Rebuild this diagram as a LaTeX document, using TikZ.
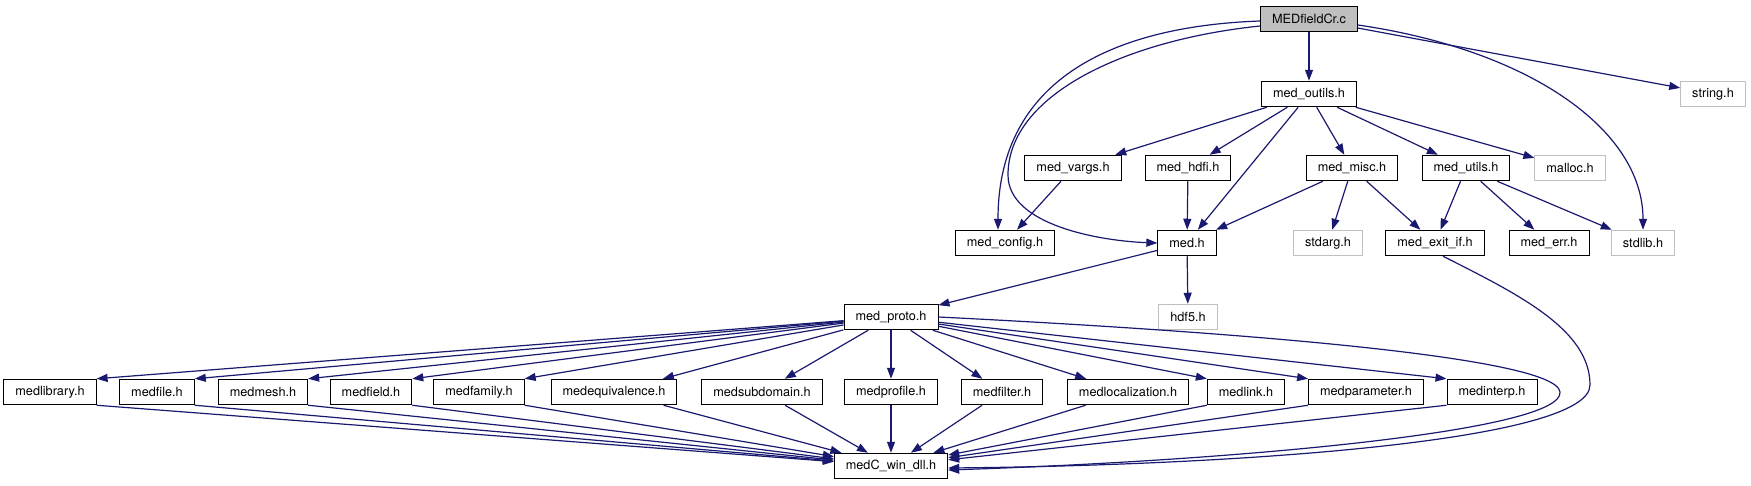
\documentclass[tikz,border=0pt]{standalone}
\usepackage{fontspec}
\setmainfont{TeX Gyre Heros}
\usetikzlibrary{arrows.meta}
\definecolor{edgeblue}{HTML}{191970}
\definecolor{sysgray}{HTML}{BFBFBF}

\begin{document}
\begin{tikzpicture}[x=1pt, y=-1pt,
    >={Triangle[length=11pt,width=8pt]},
    hdr/.style={draw=black, fill=white, line width=1pt, inner xsep=11.5pt, inner ysep=0pt,
      minimum height=25.5pt, font=\fontsize{12.7}{15}\selectfont},
    syshdr/.style={hdr, draw=sysgray},
    dep/.style={->, draw=edgeblue, line width=1.2pt}]
        \useasboundingbox (0,0) rectangle (1751,485);

        % top ranks
        \node[hdr, fill=sysgray] (fieldcr) at (1309,19) {MEDfieldCr.c};
        \node[hdr] (outils) at (1309,94) {med\_outils.h};
        \node[syshdr] (string) at (1713,94) {string.h};

        \node[hdr] (vargs) at (1073,168) {med\_vargs.h};
        \node[hdr] (hdfi) at (1188,168) {med\_hdfi.h};
        \node[hdr] (misc) at (1352,168) {med\_misc.h};
        \node[hdr] (utils) at (1466,168) {med\_utils.h};
        \node[syshdr] (malloc) at (1570,168) {malloc.h};

        \node[hdr] (config) at (1005,243) {med\_config.h};
        \node[hdr] (med) at (1187,243) {med.h};
        \node[syshdr] (stdarg) at (1328,243) {stdarg.h};
        \node[hdr] (exitif) at (1435,243) {med\_exit\_if.h};
        \node[hdr] (err) at (1549,243) {med\_err.h};
        \node[syshdr] (stdlib) at (1643,243) {stdlib.h};

        \node[hdr] (proto) at (891,317) {med\_proto.h};
        \node[syshdr] (hdf) at (1188,317) {hdf5.h};

        % headers pulled in by med_proto.h
        \node[hdr] (library) at (50,392) {medlibrary.h};
        \node[hdr] (file) at (157,392) {medfile.h};
        \node[hdr] (mesh) at (263,392) {medmesh.h};
        \node[hdr] (field) at (371,392) {medfield.h};
        \node[hdr] (family) at (479,392) {medfamily.h};
        \node[hdr] (equiv) at (614,392) {medequivalence.h};
        \node[hdr] (subdomain) at (762,392) {medsubdomain.h};
        \node[hdr] (profile) at (891,392) {medprofile.h};
        \node[hdr] (filter) at (1002,392) {medfilter.h};
        \node[hdr] (localization) at (1128,392) {medlocalization.h};
        \node[hdr] (link) at (1246,392) {medlink.h};
        \node[hdr] (parameter) at (1366,392) {medparameter.h};
        \node[hdr] (interp) at (1492,392) {medinterp.h};

        \node[hdr] (windll) at (891,466) {medC\_win\_dll.h};

        % MEDfieldCr.c
        \draw[dep] (fieldcr) -- (outils);
        \draw[dep] (fieldcr) -- (string);
        \draw[dep] ([yshift=-2pt]fieldcr.west) .. controls (1120,26) and (998,75) .. ([xshift=-7pt]config.north);
        \draw[dep] ([yshift=-7pt]fieldcr.west) .. controls (1125,40) and (1008,95) .. (1008,175)
          .. controls (1008,225) and (1100,241) .. (med.west);
        \draw[dep] ([yshift=-6pt]fieldcr.east) .. controls (1530,50) and (1643,130) .. (stdlib.north);

        % med_outils.h
        \draw[dep] (outils) -- (vargs);
        \draw[dep] (outils) -- (hdfi);
        \draw[dep] (outils) -- (med);
        \draw[dep] (outils) -- (misc);
        \draw[dep] (outils) -- (utils);
        \draw[dep] (outils) -- (malloc);

        \draw[dep] (vargs) -- (config);
        \draw[dep] (hdfi) -- (med);
        \draw[dep] (misc) -- (med);
        \draw[dep] (misc) -- (stdarg);
        \draw[dep] (misc) -- (exitif);
        \draw[dep] (utils) -- (exitif);
        \draw[dep] (utils) -- (err);
        \draw[dep] (utils) -- (stdlib);

        \draw[dep] (med) -- (proto);
        \draw[dep] (med) -- (hdf);

        % med_proto.h
        \draw[dep] (proto) -- (library.north east);
        \draw[dep] (proto) -- (file.north east);
        \draw[dep] (proto) -- (mesh.north east);
        \draw[dep] (proto) -- (field.north east);
        \draw[dep] (proto) -- (family.north east);
        \draw[dep] (proto) -- (equiv);
        \draw[dep] (proto) -- (subdomain);
        \draw[dep] (proto) -- (profile);
        \draw[dep] (proto) -- (filter);
        \draw[dep] (proto) -- (localization);
        \draw[dep] (proto) -- (link.north west);
        \draw[dep] (proto) -- (parameter.north west);
        \draw[dep] (proto) -- (interp.north west);
        \draw[dep] (proto.east) .. controls (1200,330) and (1556,355) .. (1560,392)
          .. controls (1564,430) and (1250,460) .. ([yshift=-4pt]windll.east);

        % into medC_win_dll.h
        \draw[dep] (library.south east) -- (windll);
        \draw[dep] (file.south east) -- (windll);
        \draw[dep] (mesh.south east) -- (windll);
        \draw[dep] (field.south east) -- (windll);
        \draw[dep] (family.south east) -- (windll);
        \draw[dep] (equiv) -- (windll);
        \draw[dep] (subdomain) -- (windll);
        \draw[dep] (profile) -- (windll);
        \draw[dep] (filter) -- (windll);
        \draw[dep] (localization) -- (windll);
        \draw[dep] (link.south west) -- (windll);
        \draw[dep] (parameter.south west) -- (windll);
        \draw[dep] (interp.south west) -- (windll);
        \draw[dep] ([xshift=8pt]exitif.south) .. controls (1520,295) and (1590,330) .. (1590,385)
          .. controls (1590,440) and (1250,465) .. ([yshift=-2pt]windll.east);
      \end{tikzpicture}
\end{document}
